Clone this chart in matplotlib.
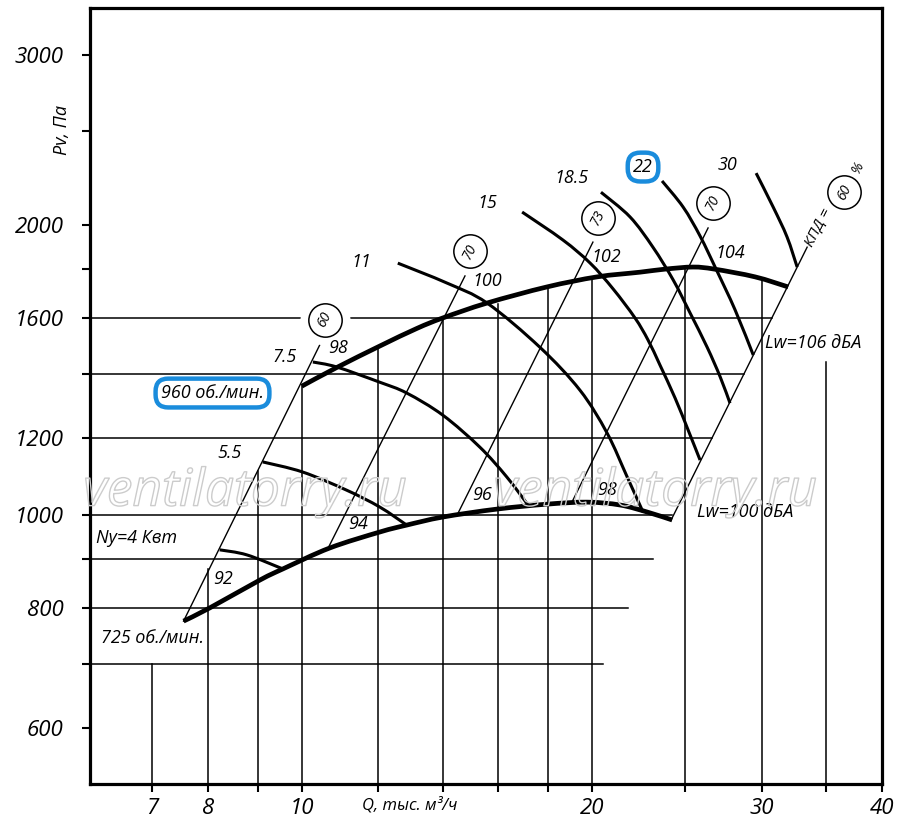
import numpy as np
import matplotlib
matplotlib.use("Agg")
import matplotlib.pyplot as plt
from matplotlib import patheffects as pe
from matplotlib.path import Path
from matplotlib.patches import PathPatch

plt.rcParams['font.family'] = ['Open Sans', 'DejaVu Sans']
plt.rcParams['font.style'] = 'italic'

# fan curves: Q, thousand m3/h  ->  Pv, Pa
q_960 = [10.0, 10.87, 12.05, 13.16, 14.01, 15.57, 17.96, 20.25, 22.44, 23.82, 25.47, 26.81, 29.54, 31.97]
p_960 = [1359, 1421, 1496, 1560, 1600, 1658, 1723, 1765, 1785, 1798, 1807, 1798, 1765, 1723]
q_725 = [7.54, 8.03, 9.05, 9.56, 10.69, 12.05, 12.85, 14.01, 15.94, 17.96, 19.77, 21.39, 22.82, 24.23]
p_725 = [775, 800, 855, 878, 923, 959, 975, 994, 1013, 1025, 1030, 1023, 1006, 987]

# motor power curves, kW
q_n4 = [8.22, 8.77, 9.56]
p_n4 = [919, 908, 878]
q_n55 = [9.11, 10.02, 11.13, 12.05, 12.85]
p_n55 = [1134, 1107, 1060, 1018, 975]
q_n75 = [10.27, 10.87, 12.05, 12.85, 14.01, 15.30, 16.32, 17.17]
p_n75 = [1440, 1423, 1372, 1337, 1268, 1175, 1094, 1023]
q_n11 = [12.58, 14.15, 15.57, 17.66, 19.44, 20.74, 21.76, 22.60]
p_n11 = [1824, 1739, 1658, 1492, 1346, 1215, 1094, 1006]
q_n15 = [16.93, 18.66, 19.92, 21.04, 22.17, 22.87, 23.53, 24.40, 25.17, 25.90]
p_n15 = [2061, 1928, 1824, 1715, 1600, 1518, 1430, 1321, 1224, 1139]
q_n185 = [20.44, 21.91, 23.14, 24.29, 25.29, 26.34, 27.18, 27.82]
p_n185 = [2161, 2037, 1895, 1752, 1619, 1492, 1389, 1305]
q_n22 = [23.65, 24.87, 25.90, 26.91, 28.16, 29.41]
p_n22 = [2220, 2086, 1946, 1798, 1631, 1464]
q_n30 = [29.61, 30.84, 31.88, 32.66]
p_n30 = [2262, 2086, 1942, 1807]

# efficiency (KPD) lines, %
kpd_values = ['60', '70', '73', '70', '60']
kpd_q_low = [7.54, 10.64, 14.49, 19.07, 24.17]
kpd_p_low = [775, 921, 998, 1030, 987]
kpd_q_high = [10.44, 14.77, 20.05, 26.40, 33.45]
kpd_p_high = [1500, 1769, 1918, 1984, 1895]
kpd_circle_q = [10.56, 14.95, 20.29, 26.72, 36.54]
kpd_circle_p = [1592, 1877, 2032, 2106, 2161]

# noise levels Lw, dBA
noise_top = ['98', '100', '102', '104']
noise_top_q = [10.90, 15.57, 20.69, 27.82]
noise_top_p = [1489, 1747, 1851, 1869]
noise_low = ['92', '94', '96', '98']
noise_low_q = [8.28, 11.43, 15.38, 20.73]
noise_low_p = [857, 977, 1048, 1060]

# grid pieces
vgrid_q = [7, 8, 9, 10, 12, 14, 16, 18, 20, 25, 30, 35]
vgrid_top = [700, 878, 1110, 1359, 1496, 1600, 1656, 1719, 1760, 1805, 1757, 1440]
hgrid_p = [700, 800, 900, 1000, 1200, 1400, 1600]
hgrid_right = [20.54, 21.80, 23.14, 24.23, 26.66, 28.77, 30.76]

x_ticks = [7, 8, 9, 10, 12, 14, 16, 18, 20, 25, 30, 35, 40]
x_labels = ['7', '8', '', '10', '', '', '', '', '20', '', '30', '', '40']
y_ticks = [600, 700, 800, 900, 1000, 1200, 1400, 1600, 1800, 2000, 2500, 3000]
y_labels = ['600', '', '800', '', '1000', '1200', '', '1600', '', '2000', '', '3000']

Q_MIN, Q_MAX = 6.03, 40.0
P_MIN, P_MAX = 525, 3357


def smooth(q, p):
    # Catmull-Rom through the read points, done in log space (the axes are log-log)
    pts = np.column_stack([np.log10(q), np.log10(p)])
    n = len(pts)
    verts = [pts[0]]
    codes = [Path.MOVETO]
    for i in range(n - 1):
        p0 = pts[i - 1] if i > 0 else pts[i]
        p1, p2 = pts[i], pts[i + 1]
        p3 = pts[i + 2] if i + 2 < n else pts[i + 1]
        verts += [p1 + (p2 - p0) / 6, p2 - (p3 - p1) / 6, p2]
        codes += [Path.CURVE4] * 3
    return Path(10 ** np.array(verts), codes)


fig = plt.figure(figsize=(9, 8.31), dpi=100)
ax = fig.add_axes([90 / 900, 1 - 784 / 831, 792 / 900, 776 / 831])
ax.set_xscale('log')
ax.set_yscale('log')
ax.set_xlim(Q_MIN, Q_MAX)
ax.set_ylim(P_MIN, P_MAX)

# grid
for q, top in zip(vgrid_q, vgrid_top):
    ax.plot([q, q], [P_MIN, top], color='black', lw=1.1, zorder=1)
for p, right in zip(hgrid_p, hgrid_right):
    ax.plot([Q_MIN, right], [p, p], color='black', lw=1.1, zorder=1)

# KPD lines
for ql, pl, qh, ph in zip(kpd_q_low, kpd_p_low, kpd_q_high, kpd_p_high):
    ax.plot([ql, qh], [pl, ph], color='black', lw=1.0, zorder=2)

# power curves
power_curves = [(q_n4, p_n4), (q_n55, p_n55), (q_n75, p_n75), (q_n11, p_n11),
                (q_n15, p_n15), (q_n185, p_n185), (q_n22, p_n22), (q_n30, p_n30)]
for q, p in power_curves:
    ax.add_patch(PathPatch(smooth(q, p), fill=False, ec='black', lw=2.2,
                           capstyle='butt', zorder=3))

# fan curves
for q, p in [(q_960, p_960), (q_725, p_725)]:
    ax.add_patch(PathPatch(smooth(q, p), fill=False, ec='black', lw=3.4,
                           capstyle='butt', zorder=4))

# circles with efficiency values
ax.plot(kpd_circle_q[0], kpd_circle_p[0], 'o', ms=36, mfc='white', mec='none', zorder=4.5)
ax.plot(kpd_circle_q, kpd_circle_p, 'o', ms=24, mfc='white', mec='black', mew=1.1,
        ls='none', zorder=5)
for q, p, s in zip(kpd_circle_q, kpd_circle_p, kpd_values):
    ax.text(q, p, s, fontsize=10, rotation=63, ha='center', va='center',
            rotation_mode='anchor', zorder=6)
ax.text(34.34, 1984, 'КПД =', fontsize=11, rotation=63, ha='center', va='center',
        rotation_mode='anchor', zorder=6)
ax.text(37.79, 2290, '%', fontsize=10, rotation=63, ha='center', va='center',
        rotation_mode='anchor', zorder=6)

# labels
lab = dict(fontsize=13, ha='center', va='center', zorder=6)
for q, p, s in zip(noise_top_q, noise_top_p, noise_top):
    ax.text(q, p, s, **lab)
for q, p, s in zip(noise_low_q, noise_low_p, noise_low):
    ax.text(q, p, s, **lab)
ax.text(11.54, 1828, '11', **lab)
ax.text(15.57, 2106, '15', **lab)
ax.text(19.07, 2235, '18.5', **lab)
ax.text(27.63, 2307, '30', **lab)
ax.text(9.60, 1457, '7.5', **lab)
ax.text(8.42, 1158, '5.5', **lab)
ax.text(6.74, 945, 'Ny=4 Квт', **lab)
ax.text(33.93, 1507, 'Lw=106 дБА', **lab)
ax.text(28.84, 1006, 'Lw=100 дБА', **lab)
ax.text(7.00, 744, '725 об./мин.', fontsize=13, ha='center', va='center', zorder=6,
        bbox=dict(boxstyle='square,pad=0.1', fc='white', ec='none'))

blue = dict(boxstyle='round,pad=0.3,rounding_size=0.7', fc='white', ec='#1a8cdc', lw=3.2)
ax.text(22.60, 2295, '22', fontsize=13, ha='center', va='center', zorder=6, bbox=blue)
ax.text(8.08, 1337, '960 об./мин.', fontsize=13, ha='center', va='center', zorder=6, bbox=blue)

# watermark
for q in [8.73, 23.26]:
    ax.text(q, 1055, 'ventilatorry.ru', fontsize=37, ha='center', va='center',
            color=(1, 1, 1, 0), zorder=7, clip_on=False,
            path_effects=[pe.withStroke(linewidth=1.0, foreground='#cccccc')])

# axes look
for sp in ax.spines.values():
    sp.set_linewidth(2.3)
ax.xaxis.set_minor_locator(matplotlib.ticker.NullLocator())
ax.yaxis.set_minor_locator(matplotlib.ticker.NullLocator())
ax.set_xticks(x_ticks)
ax.set_xticklabels(x_labels)
ax.set_yticks(y_ticks)
ax.set_yticklabels(y_labels)
ax.tick_params(axis='both', direction='out', length=6, width=1.5, labelsize=16)
ax.tick_params(axis='x', pad=4)
ax.tick_params(axis='y', pad=13)

ax.text(0.404, -0.028, 'Q, тыс. м³/ч', transform=ax.transAxes, fontsize=12,
        ha='center', va='center')
ax.text(-0.035, 0.843, 'Pv, Па', transform=ax.transAxes, fontsize=13,
        rotation=90, ha='center', va='center')

fig.savefig('out.png', dpi=100)
